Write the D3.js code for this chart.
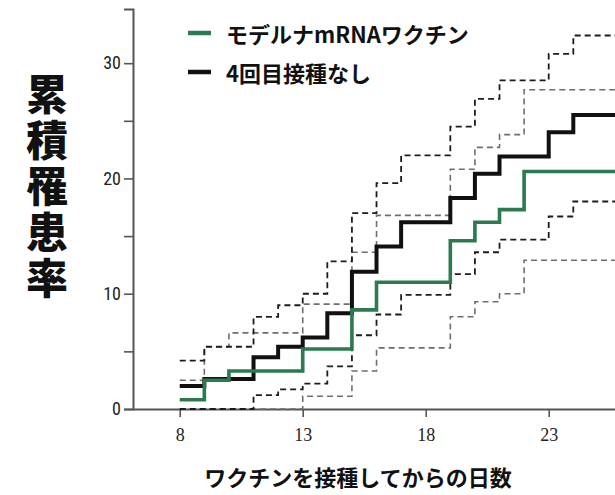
<!DOCTYPE html>
<html>
<head>
<meta charset="utf-8">
<script src="https://cdn.jsdelivr.net/npm/d3@7"></script>
<style>
  html, body { margin: 0; padding: 0; background: #fff; }
  svg { display: block; }
</style>
</head>
<body>
<svg id="chart" width="615" height="495"></svg>
<script>
// ---- data ----
const days = [8, 9, 10, 11, 12, 13, 14, 15, 16, 17, 18, 19, 20, 21, 22, 23, 24, 26];
const noDoseMean  = [2.0, 2.6, 2.6, 4.5, 5.4, 6.2, 8.3, 11.9, 14.1, 16.2, 16.2, 18.3, 20.4, 21.9, 21.9, 24.0, 25.5, 25.5];
const noDoseUpper = [4.2, 5.4, 5.4, 8.0, 9.0, 10.0, 12.8, 17.0, 19.6, 22.0, 22.0, 24.5, 26.9, 28.5, 28.5, 30.8, 32.4, 32.4];
const noDoseLower = [0, 0, 0, 1.2, 1.7, 2.2, 3.7, 6.4, 8.2, 9.9, 9.9, 11.7, 13.6, 14.7, 14.7, 16.7, 18.0, 18.0];
const modernaMean  = [0.8, 2.5, 3.3, 3.3, 3.3, 5.2, 5.2, 8.6, 11.0, 11.0, 11.0, 14.6, 16.2, 17.3, 20.6, 20.6, 20.6, 20.6];
const modernaUpper = [2.5, 5.4, 6.6, 6.6, 6.6, 9.1, 9.1, 13.6, 16.8, 16.8, 16.8, 20.8, 22.7, 23.8, 27.7, 27.7, 27.7, 27.7];
const modernaLower = [0, 0, 0, 0, 0, 1.1, 1.1, 3.3, 5.3, 5.3, 5.3, 8.0, 9.3, 10.0, 12.9, 12.9, 12.9, 12.9];
const xTicks = [8, 13, 18, 23];
const yTicks = [0, 5, 10, 15, 20, 25, 30];
const yLabelTicks = [0, 10, 20, 30];
const seriesNames = ["モデルナmRNAワクチン", "4回目接種なし"];
const xTitle = "ワクチンを接種してからの日数";
const yTitle = "累積罹患率";

// ---- layout ----
const svg = d3.select("#chart");
svg.append("rect").attr("width", 615).attr("height", 495).attr("fill", "#fff");

const x = d3.scaleLinear().domain([6.1, 26]).range([133, 622.5]);
const y = d3.scaleLinear().domain([0, 34.7]).range([409, 9]);

const GREEN = "#2b7a50";
const BLACK = "#111";
const DARKDASH = "#1c1c1c";
const LIGHTDASH = "#6e6e6e";

// axes
const axisColor = "#555";
const yAxis = d3.axisLeft(y).tickValues(yTicks).tickSize(9).tickPadding(3)
  .tickFormat(d => yLabelTicks.includes(d) ? d : "");
const gy = svg.append("g").attr("transform", `translate(${x(6.1)},0)`).call(yAxis);
gy.select(".domain").attr("stroke", axisColor).attr("stroke-width", 2);
gy.selectAll(".tick line").attr("stroke", axisColor).attr("stroke-width", 1.6);
gy.selectAll(".tick text").attr("fill", "#222")
  .style("font-family", "'Liberation Sans Narrow', 'Roboto Condensed', 'Liberation Sans', sans-serif")
  .style("font-size", "18px");

const xAxis = d3.axisBottom(x).tickValues(xTicks).tickSize(8).tickPadding(11).tickSizeOuter(0);
const gx = svg.append("g").attr("transform", `translate(0,${y(0)})`).call(xAxis);
gx.select(".domain").attr("stroke", axisColor).attr("stroke-width", 2);
gx.selectAll(".tick line").attr("stroke", axisColor).attr("stroke-width", 1.6);
gx.selectAll(".tick text").attr("fill", "#222")
  .style("font-family", "'Liberation Serif', 'DejaVu Serif', serif")
  .style("font-size", "18px");

// lines
const line = d3.line().x(d => x(d[0])).y(d => y(d[1])).curve(d3.curveStepAfter);
function draw(vals, color, width, dash) {
  svg.append("path")
    .datum(days.map((d, i) => [d, vals[i]]))
    .attr("d", line)
    .attr("fill", "none")
    .attr("stroke", color)
    .attr("stroke-width", width)
    .attr("stroke-dasharray", dash || null)
    .attr("stroke-linejoin", "miter")
    .attr("stroke-linecap", "butt");
}
draw(modernaLower, LIGHTDASH, 1.6, "6,4");
draw(modernaUpper, LIGHTDASH, 1.6, "6,4");
draw(noDoseLower, DARKDASH, 1.8, "6,4");
draw(noDoseUpper, DARKDASH, 1.8, "6,4");
draw(noDoseMean, BLACK, 4, null);
draw(modernaMean, GREEN, 3.6, null);

// legend
const legend = svg.append("g");
const legendColors = [GREEN, BLACK];
seriesNames.forEach((name, i) => {
  const cy = 33 + i * 39;
  legend.append("line").attr("x1", 188).attr("x2", 211).attr("y1", cy).attr("y2", cy)
    .attr("stroke", legendColors[i]).attr("stroke-width", 4.5);
  legend.append("text").attr("x", 226).attr("y", cy).attr("dominant-baseline", "central")
    .style("font-family", "'Noto Sans CJK JP', 'Noto Sans', sans-serif")
    .style("font-weight", 700).style("font-size", "22px").attr("fill", "#111")
    .text(name);
});

// axis titles
svg.append("text").attr("x", 358).attr("y", 476).attr("text-anchor", "middle")
  .attr("dominant-baseline", "central")
  .style("font-family", "'Noto Sans CJK JP', sans-serif")
  .style("font-weight", 700).style("font-size", "22px").attr("fill", "#111")
  .text(xTitle);

svg.append("text").attr("x", 47).attr("y", 73)
  .style("writing-mode", "vertical-rl")
  .style("text-orientation", "upright")
  .style("letter-spacing", "4px")
  .style("font-family", "'Noto Sans CJK JP', sans-serif")
  .style("font-weight", 900).style("font-size", "42px").attr("fill", "#111")
  .text(yTitle);
</script>
</body>
</html>
